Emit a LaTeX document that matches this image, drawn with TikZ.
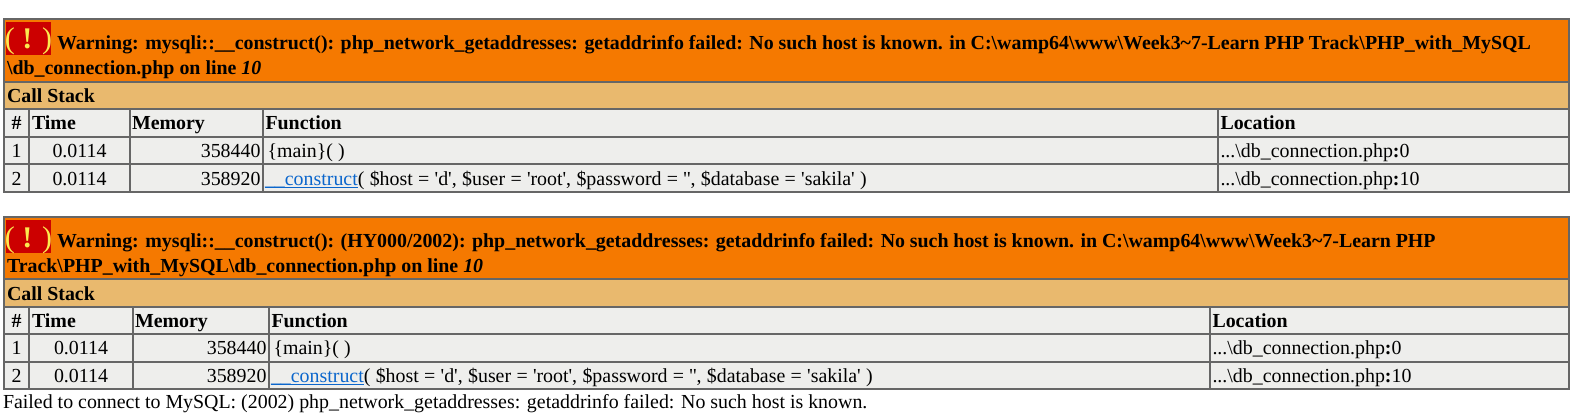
\documentclass[tikz,border=0pt]{standalone}
\usepackage{fontspec}
\setmainfont{Liberation Serif}
\definecolor{bordergray}{HTML}{666666}
\definecolor{cellgray}{HTML}{EEEEEC}
\definecolor{warnorange}{HTML}{F57900}
\definecolor{stacktan}{HTML}{E9B96E}
\definecolor{iconred}{HTML}{CC0000}
\definecolor{iconyellow}{HTML}{FCE94F}
\definecolor{linkblue}{HTML}{0B66CC}
\newcommand{\us}{\_}
\newcommand{\bs}{\textbackslash}
\newcommand{\q}{\textquotesingle}
\newcommand{\tld}{\textasciitilde}
\tikzset{
  cellbox/.style={draw=bordergray,line width=1.2pt,fill=cellgray},
  warnbox/.style={draw=bordergray,line width=1.2pt,fill=warnorange},
  stackbox/.style={draw=bordergray,line width=1.2pt,fill=stacktan},
  iconbox/.style={fill=iconred,draw=none},
  txt/.style={inner sep=0pt,outer sep=0pt,anchor=base west,font=\fontsize{19.9}{19.9}\selectfont},
  txtr/.style={txt,anchor=base east},
  txtc/.style={txt,anchor=base},
  bold/.style={txt,font=\fontsize{19.9}{19.9}\selectfont\bfseries},
  boldc/.style={bold,anchor=base},
  iconmark/.style={inner sep=0pt,outer sep=0pt,anchor=base,text=iconyellow,font=\fontsize{30}{30}\selectfont},
  linktext/.style={txt,text=linkblue},
  linkline/.style={draw=linkblue,line width=1.3pt}
}
\begin{document}
\begin{tikzpicture}[x=1pt,y=-1pt]
\useasboundingbox (0,0) rectangle (1576,417);
\fill[white] (0,0) rectangle (1576,417);
% ---------- first table
\draw[warnbox] (4,19) rectangle (1569,82);
\draw[stackbox] (4,82) rectangle (1569,109);
\foreach \ya/\yb in {109/137,137/164,164/192}{
  \foreach \xa/\xb in {4/29,29/130,130/263,263/1218,1218/1569}{
    \draw[cellbox] (\xa,\ya) rectangle (\xb,\yb);
  }
}
\fill[iconbox] (6,22) rectangle (51,55);
% ---------- second table
\draw[warnbox] (4,217) rectangle (1569,279);
\draw[stackbox] (4,279) rectangle (1569,307);
\foreach \ya/\yb in {307/334,334/362,362/389}{
  \foreach \xa/\xb in {4/29,29/133,133/269,269/1210,1210/1569}{
    \draw[cellbox] (\xa,\ya) rectangle (\xb,\yb);
  }
}
\fill[iconbox] (6,220) rectangle (51,253);
\begin{scope}[yshift=-0.8pt]
\node[iconmark] (i1) at (28.5,48.2) {( \textbf{!} )};
\node[bold] (w1a) at (57,48.3) {\spaceskip=4.8pt Warning: mysqli::\us\us construct(): php\us network\us getaddresses: getaddrinfo failed: No such host is known. in C:\bs wamp64\bs www\bs Week3\tld 7-Learn PHP Track\bs PHP\us with\us MySQL};
\node[bold] (w1b) at (7,74) {\bs db\us connection.php on line \textit{10}};
\node[bold] (c1) at (7,101.7) {Call Stack};
\node[boldc] (h1a) at (16.5,129) {\#};
\node[bold] (h1b) at (32,129) {Time};
\node[bold] (h1c) at (132,129) {Memory};
\node[bold] (h1d) at (265.5,129) {Function};
\node[bold] (h1e) at (1220.5,129) {Location};
\node[txtc] (r1a) at (16.5,156.7) {1};
\node[txtc] (r1b) at (79.5,156.7) {0.0114};
\node[txtr] (r1c) at (260.5,156.7) {358440};
\node[txt] (r1d) at (267.5,156.7) {\{main\}( )};
\node[txt] (r1e) at (1220.5,156.7) {...\bs db\us connection.php\textbf{:}0};
\node[txtc] (s1a) at (16.5,184.7) {2};
\node[txtc] (s1b) at (79.5,184.7) {0.0114};
\node[txtr] (s1c) at (260.5,184.7) {358920};
\node[linktext] (s1d) at (265,184.7) {\us\us construct};
\draw[linkline] ([yshift=-2.2pt]s1d.base west) -- ([yshift=-2.2pt]s1d.base east);
\node[txt] (s1f) at (s1d.base east) {\spaceskip=5.3pt ( \$host = \q d\q, \$user = \q root\q, \$password = \q\q, \$database = \q sakila\q\ )};
\node[txt] (s1e) at (1220.5,184.7) {...\bs db\us connection.php\textbf{:}10};
\node[iconmark] (i2) at (28.5,246.2) {( \textbf{!} )};
\node[bold] (w2a) at (57,246.7) {\spaceskip=4.8pt Warning: mysqli::\us\us construct(): (HY000/2002): php\us network\us getaddresses: getaddrinfo failed: No such host is known. in C:\bs wamp64\bs www\bs Week3\tld 7-Learn PHP};
\node[bold] (w2b) at (7,271.7) {Track\bs PHP\us with\us MySQL\bs db\us connection.php on line \textit{10}};
\node[bold] (c2) at (7,300) {Call Stack};
\node[boldc] (h2a) at (16.5,326.7) {\#};
\node[bold] (h2b) at (32,326.7) {Time};
\node[bold] (h2c) at (135,326.7) {Memory};
\node[bold] (h2d) at (271.5,326.7) {Function};
\node[bold] (h2e) at (1212.5,326.7) {Location};
\node[txtc] (r2a) at (16.5,354) {1};
\node[txtc] (r2b) at (81,354) {0.0114};
\node[txtr] (r2c) at (266.5,354) {358440};
\node[txt] (r2d) at (273.5,354) {\{main\}( )};
\node[txt] (r2e) at (1212.5,354) {...\bs db\us connection.php\textbf{:}0};
\node[txtc] (s2a) at (16.5,381.7) {2};
\node[txtc] (s2b) at (81,381.7) {0.0114};
\node[txtr] (s2c) at (266.5,381.7) {358920};
\node[linktext] (s2d) at (271,381.7) {\us\us construct};
\draw[linkline] ([yshift=-2.2pt]s2d.base west) -- ([yshift=-2.2pt]s2d.base east);
\node[txt] (s2f) at (s2d.base east) {\spaceskip=5.3pt ( \$host = \q d\q, \$user = \q root\q, \$password = \q\q, \$database = \q sakila\q\ )};
\node[txt] (s2e) at (1212.5,381.7) {...\bs db\us connection.php\textbf{:}10};
\node[txt] (fail) at (3,408) {Failed to connect to MySQL: (2002) php\us network\us getaddresses: getaddrinfo failed: No such host is known.};
\end{scope}
\end{tikzpicture}
\end{document}
